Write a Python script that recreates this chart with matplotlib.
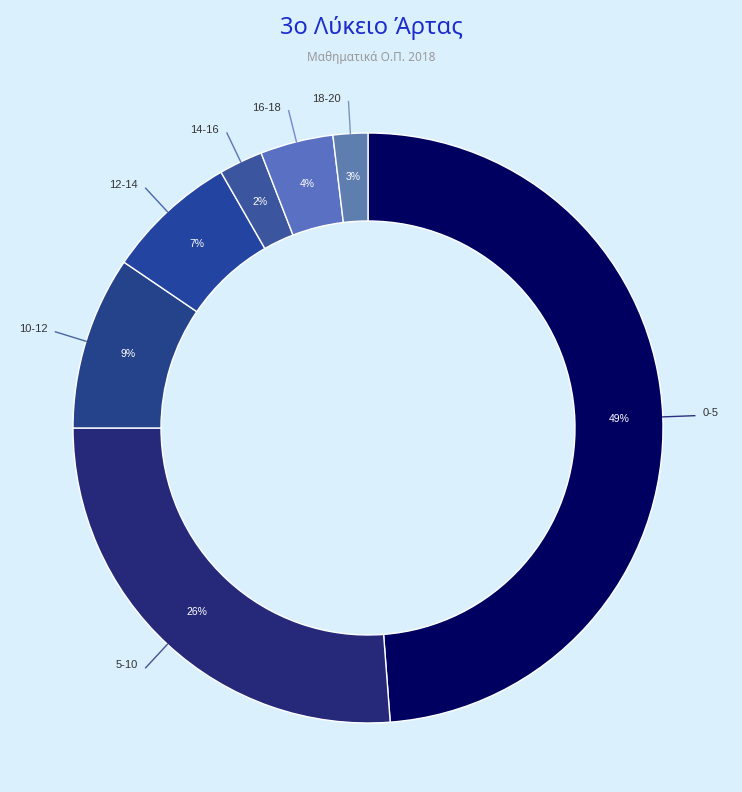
import numpy as np
import matplotlib.pyplot as plt

# age groups and share, shown labels as in picture
groups = ['0-5', '5-10', '10-12', '12-14', '14-16', '16-18', '18-20']
shares = [48.8, 26.2, 9.5, 7.2, 2.4, 4.0, 1.9]
pct_labels = ['49%', '26%', '9%', '7%', '2%', '4%', '3%']
colors = ['#000060', '#26287a', '#25438a', '#2344a0', '#3b559f', '#5a70c2', '#5f7eb0']

bg = '#dbf0fd'
W, H = 742, 792
cx, cy = 368, H - 428
R, r_in = 295, 207

fig = plt.figure(figsize=(W / 100, H / 100), dpi=100, facecolor=bg)
ax = fig.add_axes([0, 0, 1, 1])
ax.set_facecolor(bg)

wedges, _ = ax.pie(shares, colors=colors, startangle=90, counterclock=False,
                   radius=R, center=(cx, cy),
                   wedgeprops=dict(width=R - r_in, edgecolor='white', linewidth=1))
# pie sets its own limits, put pixel-like limits back
ax.set_xlim(0, W)
ax.set_ylim(0, H)
ax.set_aspect('equal')
ax.axis('off')

rmid = (R + r_in) / 2
for w, lab, pct, col in zip(wedges, groups, pct_labels, colors):
    ang = np.deg2rad((w.theta1 + w.theta2) / 2)
    dx, dy = np.cos(ang), np.sin(ang)
    ax.text(cx + rmid * dx, cy + rmid * dy, pct, color='white', fontsize=7.5,
            ha='center', va='center', family='Liberation Sans')
    x0, y0 = cx + R * dx, cy + R * dy
    x1, y1 = cx + (R + 32) * dx, cy + (R + 32) * dy
    ax.plot([x0, x1], [y0, y1], color=col, lw=1, alpha=0.8)
    if dx >= 0:
        ax.text(x1 + 8, y1 + 3, lab, ha='left', va='center', fontsize=8,
                color='#333333', family='Liberation Sans')
    else:
        ax.text(x1 - 8, y1 + 3, lab, ha='right', va='center', fontsize=8,
                color='#333333', family='Liberation Sans')

fig.text(371 / W, 1 - 28 / H, '3ο Λύκειο Άρτας', ha='center', va='center',
         fontsize=17, color='#1b2ccc', family='Noto Sans')
fig.text(371 / W, 1 - 58 / H, 'Μαθηματικά Ο.Π. 2018', ha='center', va='center',
         fontsize=8.5, color='#999999', family='Noto Sans')

plt.savefig('out.png', dpi=100, facecolor=bg)
